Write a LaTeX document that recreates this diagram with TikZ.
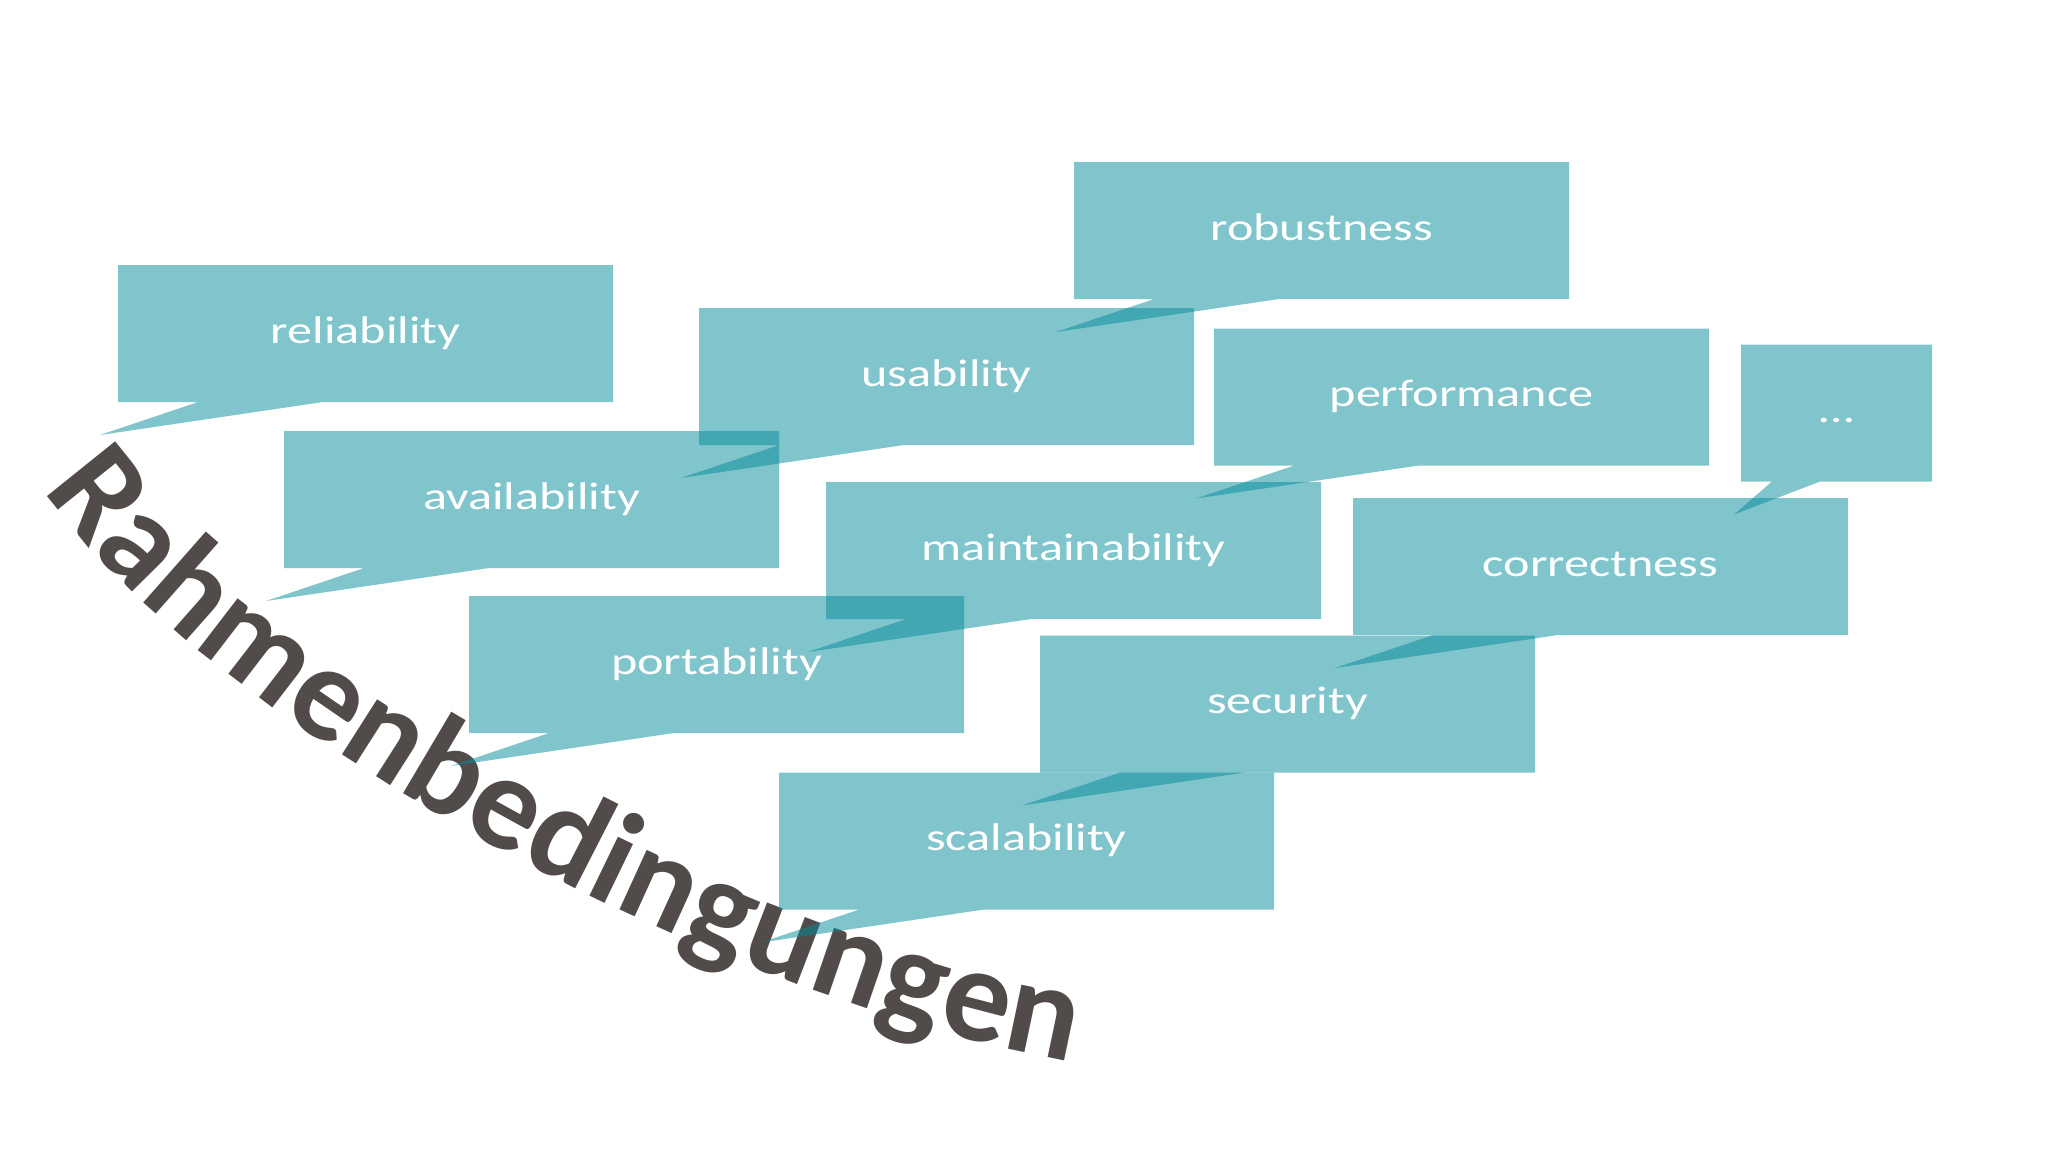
\documentclass[tikz,border=0pt]{standalone}
\usepackage{fontspec}
\setmainfont{Carlito}
\newfontfamily\qualityfont{Carlito}[FakeStretch=1.3]
\newfontfamily\rahmenfont{Carlito}
\usetikzlibrary{decorations.text}
\usepackage{xcolor}
\definecolor{reqteal}{RGB}{3,139,155}
\definecolor{wordgrey}{HTML}{514C49}
\tikzset{
  reqfill/.style={fill=reqteal, fill opacity=0.5},
  reqlabel/.style={text=white, inner sep=0pt,
                   font=\qualityfont\fontsize{38.6pt}{46pt}\selectfont},
  wordart/.style={decorate, decoration={text along path,
                  text format delimiters={|}{|},
                  text={|\rahmenfont\bfseries\fontsize{135pt}{150pt}\selectfont\color{wordgrey}|Rahmenbedingungen}}},
}
% callout: name, left, top, width, label
\newcommand{\reqbox}[5]{%
  \fill[reqfill] (#2,#3) -- ++(#4,0) -- ++(0,137)
    -- ({#2+0.414*#4},{#3+137}) -- ({#2-0.0364*#4},{#3+170})
    -- ({#2+0.162*#4},{#3+137}) -- (#2,{#3+137}) -- cycle;
  \node[reqlabel, anchor=base] (#1) at ({#2+0.5*#4},{#3+78}) {#5};
}

\begin{document}
\begin{tikzpicture}[x=1pt, y=-1pt]
  \path[use as bounding box, fill=white] (0,0) rectangle (2048,1152);

  % --- curved title ---
  \path[wordart] (44,490) .. controls (197,714) and (720,1016) .. (1125,1070);

  % --- callouts ---
  \reqbox{rel}{118}{265}{495}{reliability}
  \reqbox{avail}{284}{431}{495}{availability}
  \reqbox{usab}{699}{308}{495}{usability}
  \reqbox{robust}{1074}{162}{495}{robustness}
  \reqbox{perf}{1214}{328.5}{495}{performance}
  \reqbox{maint}{826}{482}{495}{maintainability}
  \reqbox{port}{469}{596}{495}{portability}
  \reqbox{correct}{1353}{498}{495}{correctness}
  \reqbox{secur}{1040}{635.5}{495}{security}
  \reqbox{scal}{779}{772.5}{495}{scalability}
  \reqbox{more}{1741}{344.5}{191}{…}

\end{tikzpicture}
\end{document}
